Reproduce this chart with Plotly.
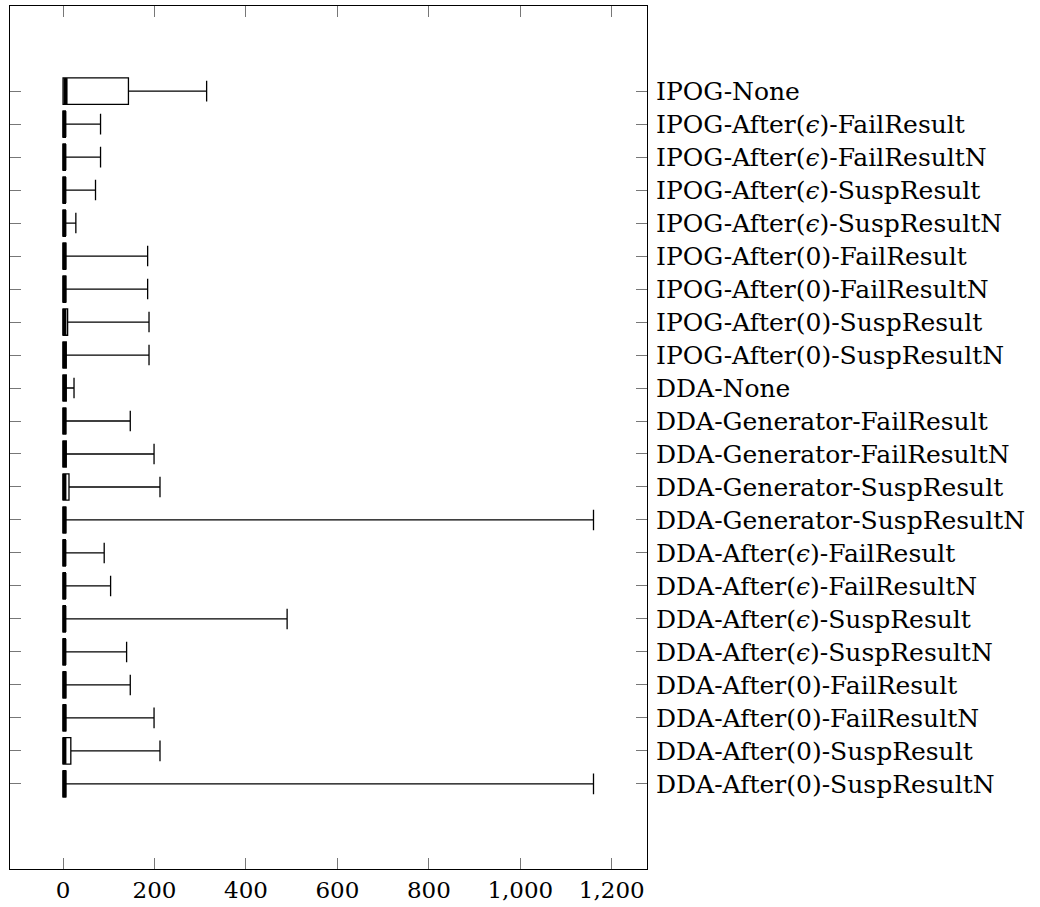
import plotly.graph_objects as go

categories = [
    "IPOG-None",
    "IPOG-After(<i>ϵ</i>)-FailResult",
    "IPOG-After(<i>ϵ</i>)-FailResultN",
    "IPOG-After(<i>ϵ</i>)-SuspResult",
    "IPOG-After(<i>ϵ</i>)-SuspResultN",
    "IPOG-After(0)-FailResult",
    "IPOG-After(0)-FailResultN",
    "IPOG-After(0)-SuspResult",
    "IPOG-After(0)-SuspResultN",
    "DDA-None",
    "DDA-Generator-FailResult",
    "DDA-Generator-FailResultN",
    "DDA-Generator-SuspResult",
    "DDA-Generator-SuspResultN",
    "DDA-After(<i>ϵ</i>)-FailResult",
    "DDA-After(<i>ϵ</i>)-FailResultN",
    "DDA-After(<i>ϵ</i>)-SuspResult",
    "DDA-After(<i>ϵ</i>)-SuspResultN",
    "DDA-After(0)-FailResult",
    "DDA-After(0)-FailResultN",
    "DDA-After(0)-SuspResult",
    "DDA-After(0)-SuspResultN",
]

lower_whisker = [0] * 22
lower_quartile = [0] * 22
median = [5.5, 3, 3, 3, 3, 3, 3, 3, 3, 3, 3, 3, 3, 3, 3, 3, 3, 3, 3, 3, 3, 3]
upper_quartile = [143, 5, 5, 5, 5, 6, 6, 10, 7, 7, 6, 7, 13, 6, 5, 5, 5, 5, 6, 6, 17, 6]
upper_whisker = [314, 82, 82, 71, 28, 185, 185, 188, 188, 24, 147, 199, 212, 1160,
                 90, 104, 490, 139, 147, 199, 212, 1160]

x_ticks = [0, 200, 400, 600, 800, 1000, 1200]

fig = go.Figure()
fig.add_trace(go.Box(
    y=categories,
    q1=lower_quartile,
    median=median,
    q3=upper_quartile,
    lowerfence=lower_whisker,
    upperfence=upper_whisker,
    orientation="h",
    width=0.8,
    whiskerwidth=0.78,
    fillcolor="white",
    line=dict(color="black", width=1.3),
    boxpoints=False,
    showlegend=False,
    hoverinfo="skip",
))
fig.add_trace(go.Scatter(
    x=median,
    y=categories,
    mode="markers",
    marker=dict(symbol="line-ns", size=18.6, color="black",
                line=dict(color="black", width=4)),
    showlegend=False,
    hoverinfo="skip",
))

font_family = "DejaVu Serif"
fig.update_layout(
    width=1040,
    height=907,
    margin=dict(l=10, r=393, t=6, b=38),
    paper_bgcolor="white",
    plot_bgcolor="white",
    font=dict(family=font_family, color="black"),
)
fig.update_xaxes(
    range=[-116, 1277],
    tickvals=x_ticks,
    tickformat=",d",
    ticks="inside",
    ticklen=11,
    tickcolor="#777",
    tickwidth=1,
    showline=True,
    linecolor="black",
    linewidth=1,
    mirror="allticks",
    showgrid=False,
    zeroline=False,
    automargin=False,
    tickfont=dict(size=23, family=font_family),
)
fig.update_yaxes(
    type="category",
    categoryorder="array",
    categoryarray=categories,
    range=[23.58, -2.58],
    side="right",
    ticks="inside",
    ticklen=11,
    tickcolor="#777",
    tickwidth=1,
    showline=True,
    linecolor="black",
    linewidth=1,
    mirror="allticks",
    showgrid=False,
    zeroline=False,
    automargin=False,
    ticklabelstandoff=3,
    tickfont=dict(size=25, family=font_family),
)

fig.write_html("out.html")
